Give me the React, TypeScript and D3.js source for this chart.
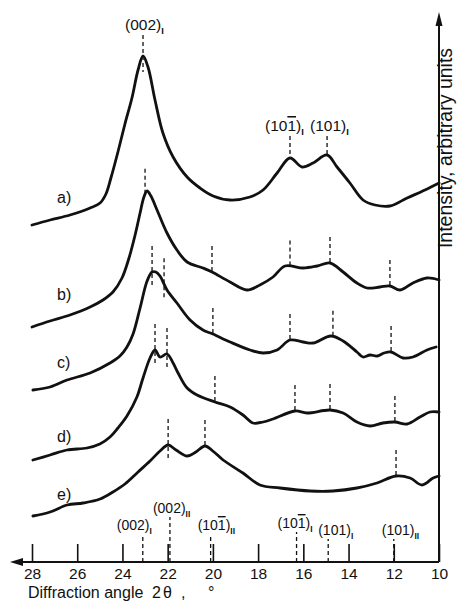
import { useEffect, useRef } from 'react';
import * as d3 from 'd3';

// diffraction angle 2θ (deg) vs intensity (arbitrary units, curves stacked)
const curveA: [number, number][] = [
  [28.0, 67.4], [27.2, 68.4], [26.32, 69.4], [25.43, 70.8], [24.99, 71.8], [24.73, 73.6],
  [24.51, 76.8], [24.2, 82.0], [23.89, 87.6], [23.58, 92.8], [23.31, 98.4], [23.09, 101.2],
  [22.87, 99.0], [22.56, 92.4], [22.21, 85.8], [21.76, 81.0], [21.14, 77.0], [20.57, 74.8],
  [19.99, 73.2], [19.24, 72.4], [18.36, 73.0], [17.78, 74.4], [17.16, 77.8], [16.59, 80.8],
  [16.06, 79.0], [15.57, 79.8], [14.95, 81.4], [14.51, 79.0], [13.94, 75.8], [13.36, 72.4],
  [12.83, 71.4], [12.17, 71.2], [11.41, 72.8], [10.62, 74.4], [10.0, 75.8],
];
const curveB: [number, number][] = [
  [28.0, 47.0], [27.2, 48.2], [26.32, 49.4], [25.43, 51.0], [24.86, 52.4], [24.42, 54.0],
  [24.02, 56.8], [23.71, 60.8], [23.44, 65.4], [23.22, 69.8], [23.05, 73.0], [22.91, 74.2],
  [22.74, 73.2], [22.47, 70.4], [22.03, 65.8], [21.59, 62.4], [21.14, 60.0], [20.44, 58.8],
  [20.04, 58.0], [19.24, 56.0], [18.49, 54.4], [17.92, 55.4], [17.34, 57.0], [16.81, 59.2],
  [16.01, 58.8], [15.39, 59.2], [14.82, 59.8], [14.24, 58.0], [13.63, 55.8], [13.18, 54.8],
  [12.61, 55.0], [12.17, 55.2], [11.72, 54.4], [11.15, 55.8], [10.53, 56.8], [10.0, 56.4],
];
const curveC: [number, number][] = [
  [27.96, 34.4], [27.2, 35.0], [26.45, 36.4], [25.43, 37.8], [24.55, 39.8], [24.11, 41.2],
  [23.8, 43.0], [23.53, 45.6], [23.22, 50.8], [22.91, 56.2], [22.69, 58.0], [22.52, 58.0],
  [22.34, 57.2], [22.03, 54.4], [21.59, 51.8], [21.01, 48.4], [20.44, 46.4], [20.0, 45.6],
  [19.24, 44.0], [18.36, 42.4], [17.78, 41.8], [17.16, 42.4], [16.59, 44.4], [16.01, 44.0],
  [15.57, 43.8], [14.78, 45.2], [14.24, 44.2], [13.63, 42.0], [13.36, 41.0], [13.05, 41.4],
  [12.74, 41.2], [12.43, 41.8], [12.12, 42.0], [11.59, 40.8], [11.15, 41.0], [10.53, 42.4],
  [10.13, 43.0],
];
const curveD: [number, number][] = [
  [27.96, 20.4], [27.2, 21.4], [26.45, 22.4], [25.57, 22.8], [25.0, 23.6], [24.55, 25.0],
  [24.2, 26.8], [23.8, 29.2], [23.36, 33.0], [23.09, 36.8], [22.78, 40.8], [22.56, 42.4],
  [22.34, 41.0], [22.03, 41.6], [21.76, 39.8], [21.54, 37.8], [21.14, 34.8], [20.7, 33.4],
  [19.91, 32.0], [19.24, 31.0], [18.67, 29.4], [18.23, 27.8], [17.78, 28.0], [17.34, 28.6],
  [16.37, 30.2], [15.84, 29.8], [14.82, 30.4], [14.24, 29.8], [13.63, 28.0], [13.05, 27.2],
  [12.48, 27.8], [11.95, 28.0], [11.41, 27.6], [10.84, 29.0], [10.4, 30.0], [10.0, 30.0],
];
const curveE: [number, number][] = [
  [27.96, 9.2], [27.2, 10.0], [26.45, 11.4], [25.74, 11.8], [24.99, 12.6], [24.42, 14.0],
  [23.89, 15.6], [23.31, 18.0], [22.78, 20.2], [22.34, 22.2], [21.98, 23.4], [21.63, 22.4],
  [21.14, 21.2], [20.75, 22.0], [20.35, 23.2], [19.95, 22.0], [19.55, 20.4], [18.67, 17.8],
  [17.92, 15.4], [17.03, 14.8], [15.7, 14.2], [14.69, 14.2], [13.63, 14.8], [12.74, 15.8],
  [11.9, 17.2], [11.28, 16.8], [10.75, 15.4], [10.26, 16.8], [10.0, 17.2],
];

// peak markers (2θ) per curve; the first n cross through the curve
const markersA = [23.09, 16.59, 14.95];
const markersB = [23.0, 20.04, 16.59, 14.82, 12.17];
const markersC = [22.69, 22.16, 20.0, 16.59, 14.69, 12.12];
const markersD = [22.56, 22.03, 19.91, 16.37, 14.82, 11.95];
const markersE = [21.98, 20.35, 11.9];

const curveNames = ['a)', 'b)', 'c)', 'd)', 'e)'];

// reference reflections on the 2θ axis ('~' = overbar on next char)
const refAngles = [23.1, 21.9, 20.1, 16.3, 14.9, 12.0];
const refNames = ['(002)', '(002)', '(10~1)', '(10~1)', '(101)', '(101)'];
const refPhases = ['I', 'II', 'II', 'I', 'I', 'II'];

const topNames = ['(002)', '(10~1)', '(101)'];

const majorTicks = [28, 26, 24, 22, 20, 18, 16, 14, 12, 10];
const minorTicks = [27, 25, 23, 21, 19, 17, 15, 13, 11];

const FONT = "'Liberation Sans', Arial, sans-serif";

const App = () => {
  const svgRef = useRef<SVGSVGElement | null>(null);

  useEffect(() => {
    if (!svgRef.current) return;
    const svg = d3.select(svgRef.current);
    svg.selectAll('*').remove();

    const x = d3.scaleLinear().domain([28, 10]).range([32, 439]);
    const y = d3.scaleLinear().domain([0, 110]).range([562, 12]);

    const addLabel = (g: any, lx: number, ly: number, name: string, sub: string, size: number) => {
      const t = g.append('text').attr('x', lx).attr('y', ly)
        .attr('font-family', FONT).attr('font-size', size).attr('fill', '#111');
      const parts = name.split('~');
      t.append('tspan').text(parts[0]);
      if (parts.length > 1) {
        t.append('tspan').style('text-decoration', 'overline').text(parts[1].charAt(0));
        t.append('tspan').text(parts[1].slice(1));
      }
      t.append('tspan').attr('font-size', size * 0.6).attr('dy', 4).attr('font-weight', 'bold').text(sub);
    };

    // axes
    const axisG = svg.append('g').attr('transform', `translate(0,${y(0)})`);
    axisG.call(d3.axisBottom(x).tickValues(minorTicks).tickSizeInner(-9).tickSizeOuter(0).tickFormat(() => ''));
    axisG.call(d3.axisBottom(x).tickValues(majorTicks).tickSizeInner(-18).tickSizeOuter(0).tickPadding(6)
      .tickFormat(d3.format('d')));
    axisG.selectAll('.domain').remove();
    axisG.selectAll('line').attr('stroke', '#111').attr('stroke-width', 1.6);
    axisG.selectAll('text').attr('font-family', FONT).attr('font-size', 15.5).attr('fill', '#111');

    svg.append('path').attr('d', `M${x(10)},${y(0)}H20`).attr('stroke', '#111').attr('stroke-width', 2).attr('fill', 'none');
    svg.append('path').attr('d', `M10,${y(0)}L23,${y(0) - 4}L23,${y(0) + 4}Z`).attr('fill', '#111');
    svg.append('path').attr('d', `M${x(10)},${y(0)}V24`).attr('stroke', '#111').attr('stroke-width', 2).attr('fill', 'none');
    svg.append('path').attr('d', `M${x(10)},12L${x(10) - 3.5},26L${x(10) + 3.5},26Z`).attr('fill', '#111');

    svg.append('text')
      .attr('transform', 'translate(452,148) rotate(-90)')
      .attr('text-anchor', 'middle')
      .attr('font-family', FONT).attr('font-size', 19.5).attr('fill', '#111')
      .text('Intensity, arbitrary units');

    const xl = svg.append('g').attr('font-family', FONT).attr('font-size', 16).attr('fill', '#111');
    xl.append('text').attr('x', 28).attr('y', 598).text('Diffraction angle');
    xl.append('text').attr('x', 152).attr('y', 598).text('2');
    xl.append('text').attr('x', 163).attr('y', 598).text('θ');
    xl.append('text').attr('x', 181).attr('y', 598).text(',');
    xl.append('text').attr('x', 208).attr('y', 598).text('°');

    // reference reflections on the axis
    const refY = [530, 513, 530, 528, 535, 535];
    const refDx = [-26, -17, -13, -19, -10, -12];
    refAngles.forEach((a, i) => {
      svg.append('line').attr('x1', x(a)).attr('x2', x(a)).attr('y1', y(0)).attr('y2', refY[i] + 4)
        .attr('stroke', '#111').attr('stroke-width', 1.3).attr('stroke-dasharray', '4,3');
      addLabel(svg, x(a) + refDx[i], refY[i], refNames[i], refPhases[i], 14);
    });

    // curves
    const series = [
      { data: curveA, markers: markersA, through: 1, label: 203 },
      { data: curveB, markers: markersB, through: 0, label: 300 },
      { data: curveC, markers: markersC, through: 2, label: 368 },
      { data: curveD, markers: markersD, through: 2, label: 442 },
      { data: curveE, markers: markersE, through: 1, label: 500 },
    ];
    const line = d3.line<[number, number]>()
      .x(d => x(d[0])).y(d => y(d[1]))
      .curve(d3.curveCatmullRom.alpha(0.5));

    const topY = [30, 131, 131];
    const topDx = [-18, -25, -17];

    series.forEach((s, si) => {
      const interp = d3.scaleLinear().domain(s.data.map(d => d[0])).range(s.data.map(d => d[1]));
      s.markers.forEach((m, mi) => {
        const yc = y(interp(m));
        const y1 = si === 0 ? topY[mi] + 5 : yc - 26;
        const y2 = mi < s.through ? yc + 16 : yc;
        svg.append('line').attr('x1', x(m)).attr('x2', x(m)).attr('y1', y1).attr('y2', y2)
          .attr('stroke', '#111').attr('stroke-width', 1.3).attr('stroke-dasharray', '4,3');
        if (si === 0) addLabel(svg, x(m) + topDx[mi], topY[mi], topNames[mi], 'I', 15.5);
      });
      svg.append('path').datum(s.data).attr('d', line)
        .attr('fill', 'none').attr('stroke', '#111').attr('stroke-width', 2.8)
        .attr('stroke-linejoin', 'round').attr('stroke-linecap', 'round');
      svg.append('text').attr('x', 57).attr('y', s.label)
        .attr('font-family', FONT).attr('font-size', 16).attr('fill', '#111')
        .text(curveNames[si]);
    });
  }, []);

  return (
    <div style={{ position: 'absolute', left: 0, top: 0, background: '#fff' }}>
      <svg ref={svgRef} width={457} height={603} style={{ display: 'block' }}></svg>
    </div>
  );
};

export default App;
